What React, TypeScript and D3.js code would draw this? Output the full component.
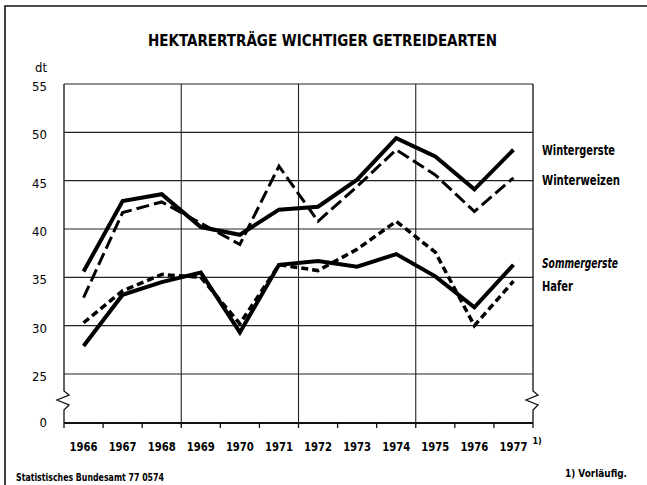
import { scaleLinear, scaleBand, select, line as d3Line } from 'd3';
import { useEffect, useRef } from 'react';

// years on the x axis, 1977 is provisional (footnote 1)
const years = ['1966', '1967', '1968', '1969', '1970', '1971', '1972', '1973', '1974', '1975', '1976', '1977'];

// dt per hectare
const wintergerste = [35.6, 42.9, 43.6, 40.2, 39.4, 42.0, 42.3, 45.1, 49.4, 47.5, 44.1, 48.2];
const winterweizen = [32.9, 41.7, 42.8, 40.6, 38.4, 46.5, 40.8, 44.4, 48.2, 45.6, 41.8, 45.3];
const sommergerste = [30.3, 33.6, 35.3, 35.0, 30.2, 36.3, 35.7, 37.9, 40.8, 37.6, 30.0, 34.6];
const hafer = [27.9, 33.2, 34.5, 35.5, 29.3, 36.3, 36.7, 36.1, 37.4, 35.1, 31.9, 36.3];

const yTicks = [0, 25, 30, 35, 40, 45, 50, 55];
const gridYears = ['1969', '1972', '1975'];

const seriesNames = ['Wintergerste', 'Winterweizen', 'Sommergerste', 'Hafer'];

const FONT = "'Liberation Sans Narrow', 'DejaVu Sans Condensed', 'Roboto Condensed', 'Liberation Sans', sans-serif";

const Chart = () => {
  const svgElem = useRef<SVGSVGElement>(null);

  useEffect(() => {
    if (!svgElem.current) {
      return;
    }
    const svg = select(svgElem.current);
    svg.selectAll('*').remove();

    // plot box in page pixels
    const PLOT = { left: 64, right: 533, top: 84, bottom: 423 };

    const xScale = scaleBand<string>().domain(years).range([PLOT.left, PLOT.right]);
    // broken axis: 0 sits below the break, 25..55 is linear
    const yScale = scaleLinear().domain([0, 25, 55]).range([PLOT.bottom, 374, PLOT.top]);
    const xMid = (i: number) => (xScale(years[i]) as number) + xScale.bandwidth() / 2;

    // outer frame
    svg.append('path')
      .attr('d', 'M5,485 L5,6 L647,6')
      .attr('fill', 'none')
      .attr('stroke', '#111')
      .attr('stroke-width', 1.6);

    // title
    svg.append('text')
      .attr('x', 148)
      .attr('y', 46)
      .attr('textLength', 349)
      .attr('lengthAdjust', 'spacingAndGlyphs')
      .style('font-family', FONT)
      .style('font-size', '15px')
      .style('font-weight', 600)
      .text('HEKTARERTRÄGE WICHTIGER GETREIDEARTEN');

    // unit
    svg.append('text')
      .attr('x', 35)
      .attr('y', 72)
      .style('font-family', FONT)
      .style('font-size', '13px')
      .text('dt');

    // horizontal grid lines
    yTicks.filter((t) => t >= 25).forEach((t) => {
      svg.append('line')
        .attr('x1', PLOT.left)
        .attr('x2', PLOT.right)
        .attr('y1', yScale(t))
        .attr('y2', yScale(t))
        .attr('stroke', '#222')
        .attr('stroke-width', 1.1);
    });

    // vertical grid lines every three years
    gridYears.forEach((yr) => {
      const x = xScale(yr) as number;
      svg.append('line')
        .attr('x1', x)
        .attr('x2', x)
        .attr('y1', PLOT.top)
        .attr('y2', PLOT.bottom + 2)
        .attr('stroke', '#222')
        .attr('stroke-width', 1.1);
    });

    // side borders with the break zigzag
    const breakTop = 391;
    const breakBottom = 410;
    [PLOT.left, PLOT.right].forEach((x) => {
      const d = `M${x},${PLOT.top} L${x},${breakTop} L${x + 5},${breakTop + 4} L${x - 7},${breakTop + 9} L${x + 5},${breakTop + 14} L${x},${breakBottom} L${x},${PLOT.bottom + 5}`;
      svg.append('path')
        .attr('d', d)
        .attr('fill', 'none')
        .attr('stroke', '#111')
        .attr('stroke-width', 1.3);
    });

    // zero axis line and year ticks
    svg.append('line')
      .attr('x1', PLOT.left)
      .attr('x2', PLOT.right)
      .attr('y1', yScale(0))
      .attr('y2', yScale(0))
      .attr('stroke', '#111')
      .attr('stroke-width', 2);
    years.slice(1).forEach((yr) => {
      const x = xScale(yr) as number;
      svg.append('line')
        .attr('x1', x)
        .attr('x2', x)
        .attr('y1', yScale(0))
        .attr('y2', yScale(0) + 5)
        .attr('stroke', '#111')
        .attr('stroke-width', 1.3);
    });

    // y tick labels
    yTicks.forEach((t) => {
      svg.append('text')
        .attr('x', 47)
        .attr('y', yScale(t) + (t === 0 ? 4 : 7))
        .attr('text-anchor', 'end')
        .style('font-family', FONT)
        .style('font-size', '13px')
        .text(String(t));
    });

    // year labels
    years.forEach((yr, i) => {
      svg.append('text')
        .attr('x', xMid(i))
        .attr('y', 451)
        .attr('text-anchor', 'middle')
        .attr('textLength', 28)
        .attr('lengthAdjust', 'spacingAndGlyphs')
        .style('font-family', FONT)
        .style('font-size', '13px')
        .style('font-weight', 700)
        .text(yr);
    });
    svg.append('text')
      .attr('x', xMid(years.length - 1) + 19)
      .attr('y', 444)
      .style('font-family', FONT)
      .style('font-size', '9px')
      .style('font-weight', 700)
      .text('1)');

    // series lines
    const line = d3Line<number>()
      .x((_, i) => xMid(i))
      .y((v) => yScale(v));

    const drawSeries = (values: number[], width: number, dash: string | null) => {
      const p = svg.append('path')
        .attr('d', line(values))
        .attr('fill', 'none')
        .attr('stroke', '#000')
        .attr('stroke-width', width)
        .attr('stroke-linejoin', 'miter');
      if (dash) {
        p.attr('stroke-dasharray', dash);
      }
    };
    drawSeries(winterweizen, 3, '13 5');
    drawSeries(sommergerste, 3.5, '7 4');
    drawSeries(wintergerste, 4, null);
    drawSeries(hafer, 4, null);

    // series labels on the right
    const labelPos = [
      { y: 155, w: 73, italic: false },
      { y: 185, w: 78, italic: false },
      { y: 268, w: 76, italic: true },
      { y: 291, w: 31, italic: false },
    ];
    seriesNames.forEach((name, i) => {
      svg.append('text')
        .attr('x', 542)
        .attr('y', labelPos[i].y)
        .attr('textLength', labelPos[i].w)
        .attr('lengthAdjust', 'spacingAndGlyphs')
        .style('font-family', FONT)
        .style('font-size', '14px')
        .style('font-weight', 600)
        .style('font-style', labelPos[i].italic ? 'italic' : 'normal')
        .text(name);
    });

    // footer
    svg.append('text')
      .attr('x', 16)
      .attr('y', 481)
      .attr('textLength', 148)
      .attr('lengthAdjust', 'spacingAndGlyphs')
      .style('font-family', FONT)
      .style('font-size', '11px')
      .style('font-weight', 700)
      .text('Statistisches Bundesamt 77 0574');
    svg.append('text')
      .attr('x', 565)
      .attr('y', 477)
      .attr('textLength', 62)
      .attr('lengthAdjust', 'spacingAndGlyphs')
      .style('font-family', FONT)
      .style('font-size', '11px')
      .style('font-weight', 700)
      .text('1) Vorläufig.');
  }, [svgElem]);

  return (
    <svg
      ref={svgElem}
      width={647}
      height={485}
      style={{ position: 'absolute', left: 0, top: 0, background: '#fff' }}
    />
  );
};

export default function App() {
  return <Chart />;
}
